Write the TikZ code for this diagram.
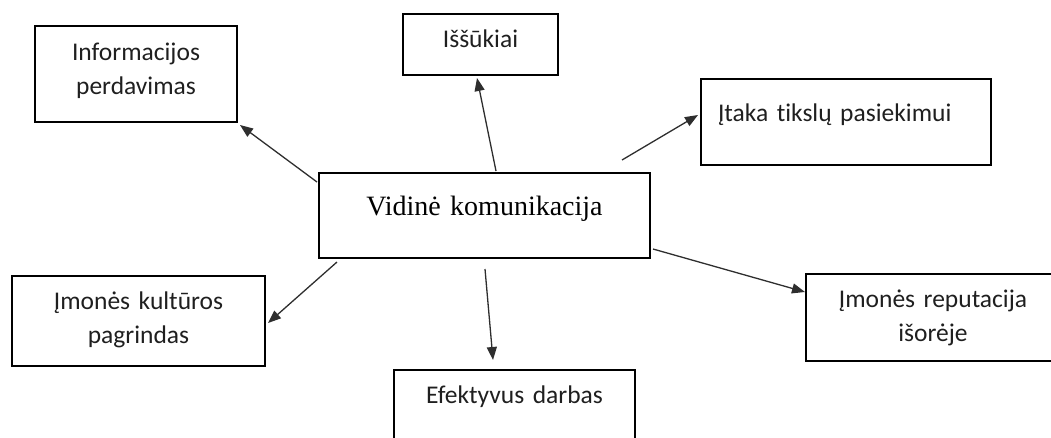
\documentclass[tikz,border=0pt]{standalone}
\usepackage{fontspec}
\setmainfont{Carlito}[Ligatures=NoCommon]
\newfontfamily\serifface{Liberation Serif}
\usetikzlibrary{arrows.meta}
\begin{document}
\begin{tikzpicture}[x=1pt,y=-1pt,
  box/.style={draw=black, line width=2pt, rectangle, inner sep=0pt, outer sep=0pt,
    anchor=north west, align=center, text=black!88,
    font=\fontsize{25.5}{34.5}\selectfont},
  link/.style={draw=black!82, line width=1.3pt, -{Triangle[length=13pt,width=10pt]}}]
\useasboundingbox (0,0) rectangle (1051,437);
\clip (0,0) rectangle (1051,437);

% central topic
\node[box, text=black, font=\serifface\fontsize{28}{34}\selectfont,
  text width=331pt, text height=42pt, text depth=43pt] (central) at (319,173) {Vidinė komunikacija};

% surrounding topics
\node[box, text width=202pt, text height=34pt, text depth=62pt] (info) at (35,26) {Informacijos\\perdavimas};
\node[box, text width=155pt, text height=33pt, text depth=28pt] (issukiai) at (403,14) {Iššūkiai};
\node[box, align=left, inner xsep=17pt, text width=256pt, text height=42pt, text depth=44pt] (itaka) at (701,79) {Įtaka tikslų pasiekimui};
\node[box, text width=253pt, text height=33pt, text depth=57pt] (kultura) at (12,276) {Įmonės kultūros\\pagrindas};
\node[box, text width=241pt, text height=33pt, text depth=57pt] (efekt) at (394,370) {Efektyvus darbas};
\node[box, text width=254pt, text height=33pt, text depth=54pt] (reput) at (806,274) {Įmonės reputacija\\išorėje};

% connectors
\coordinate (itakastart) at (622,160);
\draw[link] ([shift={(-2pt,-9pt)}]central.north west) -- ([shift={(3pt,-3pt)}]info.south east);
\draw[link] ([shift={(11.5pt,2pt)}]central.north) -- ([shift={(-3.5pt,-3pt)}]issukiai.south);
\draw[link] (itakastart) -- ([shift={(-3pt,7pt)}]itaka.west);
\draw[link] ([shift={(18pt,-4pt)}]central.south west) -- ([shift={(3pt,-2pt)}]kultura.east);
\draw[link] ([shift={(0.5pt,-11pt)}]central.south) -- ([shift={(-21.5pt,10pt)}]efekt.north);
\draw[link] ([shift={(3pt,9pt)}]central.south east) -- ([shift={(-1pt,-18pt)}]reput.north west);
\end{tikzpicture}
\end{document}
